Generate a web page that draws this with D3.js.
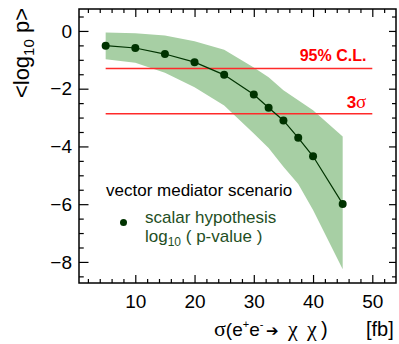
<!DOCTYPE html>
<html>
<head>
<meta charset="utf-8">
<script src="https://cdn.jsdelivr.net/npm/d3@7"></script>
<style>
  body { margin: 0; background: #fff; }
  svg { display: block; font-family: "Liberation Sans", Arial, sans-serif; }
</style>
</head>
<body>
<div id="chart"></div>
<script>
"use strict";

// cross section points [fb]
const sigmaValues = [5, 10, 15, 20, 25, 30, 32.5, 35, 37.5, 40, 45];
// mean log10 p for the scalar hypothesis
const meanLogP = [-0.51, -0.59, -0.80, -1.08, -1.52, -2.20, -2.66, -3.10, -3.70, -4.34, -5.99];
// spread band
const bandHigh = [-0.05, -0.08, -0.16, -0.36, -0.65, -1.27, -1.60, -2.05, -2.40, -2.75, -3.66];
const bandLow = [-0.98, -1.10, -1.45, -1.95, -2.58, -3.55, -4.05, -4.70, -5.30, -6.20, -8.25];

// reference levels
const levelNames = ["95% C.L.", "3σ"];
const levelValues = [-1.30, -2.87];
const levelRange = [5, 50];

const xMajorTicks = [10, 20, 30, 40, 50];
const yMajorTicks = [0, -2, -4, -6, -8];

const W = 399, H = 344;
const margin = { top: 9, right: 3, bottom: 61, left: 79 },
    width = W - margin.left - margin.right,
    height = H - margin.top - margin.bottom;

const svg = d3.select("#chart").append("svg")
    .attr("width", W)
    .attr("height", H);

const g = svg.append("g")
    .attr("transform", "translate(" + margin.left + "," + margin.top + ")");

const x = d3.scaleLinear().domain([0.5, 54]).range([0, width]);
const y = d3.scaleLinear().domain([-8.73, 0.76]).range([height, 0]);

const xMinor = d3.range(2, 54, 2).filter(v => v % 10 != 0);
const yMinor = d3.range(-8.5, 0.76, 0.5).filter(v => v % 2 != 0);

// band
const pts = sigmaValues.map((s, i) => ({ s: s, m: meanLogP[i], hi: bandHigh[i], lo: bandLow[i] }));
g.append("path")
    .datum(pts)
    .attr("fill", "#a7cfa4")
    .attr("stroke", "none")
    .attr("d", d3.area()
        .x(d => x(d.s))
        .y0(d => y(d.lo))
        .y1(d => y(d.hi)));

// reference lines
levelValues.forEach((v, i) => {
    g.append("line")
        .attr("x1", x(levelRange[0])).attr("x2", x(levelRange[1]))
        .attr("y1", y(v)).attr("y2", y(v))
        .attr("stroke", "#ff2a2a")
        .attr("stroke-width", 1.5);
});

g.append("text")
    .attr("x", x(49)).attr("y", y(levelValues[0]) - 7)
    .attr("text-anchor", "end")
    .attr("fill", "#ff0000")
    .style("font-size", "16px")
    .style("font-weight", "bold")
    .text(levelNames[0]);

g.append("text")
    .attr("x", x(49)).attr("y", y(levelValues[1]) - 6)
    .attr("text-anchor", "end")
    .attr("fill", "#ff0000")
    .style("font-size", "17px")
    .style("font-weight", "bold")
    .call(t => {
        t.append("tspan").text("3");
        t.append("tspan").style("font-family", "'Liberation Serif', serif").style("font-weight", "normal").style("font-size", "19px").text("σ");
    });

// mean curve
g.append("path")
    .datum(pts)
    .attr("fill", "none")
    .attr("stroke", "#003300")
    .attr("stroke-width", 1.2)
    .attr("d", d3.line().x(d => x(d.s)).y(d => y(d.m)));

g.selectAll("circle.pt")
    .data(pts)
    .enter().append("circle")
    .attr("class", "pt")
    .attr("cx", d => x(d.s))
    .attr("cy", d => y(d.m))
    .attr("r", 4)
    .attr("fill", "#003300");

// axes (ticks inside, ROOT style)
const styleAxis = (sel) => {
    sel.select(".domain").remove();
    sel.selectAll("line").attr("stroke", "#000").attr("stroke-width", 1.2);
};

g.append("g")
    .attr("transform", "translate(0," + height + ")")
    .call(d3.axisBottom(x).tickValues(xMajorTicks).tickSizeInner(-8).tickSizeOuter(0).tickPadding(12))
    .call(styleAxis)
    .selectAll("text").style("font-size", "19px").attr("fill", "#000");
g.append("g")
    .attr("transform", "translate(0," + height + ")")
    .call(d3.axisBottom(x).tickValues(xMinor).tickSizeInner(-4).tickSizeOuter(0).tickFormat(""))
    .call(styleAxis);
g.append("g")
    .call(d3.axisTop(x).tickValues(xMajorTicks).tickSizeInner(-8).tickSizeOuter(0).tickFormat(""))
    .call(styleAxis);
g.append("g")
    .call(d3.axisTop(x).tickValues(xMinor).tickSizeInner(-4).tickSizeOuter(0).tickFormat(""))
    .call(styleAxis);

g.append("g")
    .call(d3.axisLeft(y).tickValues(yMajorTicks).tickSizeInner(-9.5).tickSizeOuter(0).tickPadding(7))
    .call(styleAxis)
    .selectAll("text").style("font-size", "19px").attr("fill", "#000");
g.append("g")
    .call(d3.axisLeft(y).tickValues(yMinor).tickSizeInner(-4.75).tickSizeOuter(0).tickFormat(""))
    .call(styleAxis);
g.append("g")
    .attr("transform", "translate(" + width + ",0)")
    .call(d3.axisRight(y).tickValues(yMajorTicks).tickSizeInner(-7).tickSizeOuter(0).tickFormat(""))
    .call(styleAxis);
g.append("g")
    .attr("transform", "translate(" + width + ",0)")
    .call(d3.axisRight(y).tickValues(yMinor).tickSizeInner(-4).tickSizeOuter(0).tickFormat(""))
    .call(styleAxis);

// frame
g.append("rect")
    .attr("width", width).attr("height", height)
    .attr("fill", "none")
    .attr("stroke", "#000")
    .attr("stroke-width", 1.5);

// legend
g.append("text")
    .attr("x", 106 - margin.left).attr("y", 196 - margin.top)
    .style("font-size", "17px")
    .attr("fill", "#000")
    .text("vector mediator scenario");

g.append("circle")
    .attr("cx", 123.5 - margin.left).attr("cy", 222.5 - margin.top)
    .attr("r", 3.5)
    .attr("fill", "#003300");

const leg = g.append("text")
    .attr("x", 145 - margin.left).attr("y", 223 - margin.top)
    .style("font-size", "17px")
    .attr("fill", "#1f4f1f");
leg.append("tspan").text("scalar hypothesis");
leg.append("tspan").attr("x", 145 - margin.left).attr("dy", 19).text("log");
leg.append("tspan").attr("dy", 4).style("font-size", "12px").text("10");
leg.append("tspan").attr("dy", -4).text(" ( p-value  )");

// y title
const yt = svg.append("text")
    .attr("transform", "translate(29,8) rotate(-90)")
    .attr("text-anchor", "end")
    .style("font-size", "22px")
    .attr("fill", "#000");
yt.append("tspan").text("<log");
yt.append("tspan").attr("dy", 5).style("font-size", "15px").text("10");
yt.append("tspan").attr("dy", -5).text(" p>");

// x title, pieces placed like the ROOT latex layout
const xt = svg.append("text")
    .attr("y", 336)
    .style("font-size", "19px")
    .attr("fill", "#000");
const serif = "'Liberation Serif', serif";
xt.append("tspan").attr("x", 214).style("font-family", serif).style("font-size", "22px").text("σ");
xt.append("tspan").text("(e");
xt.append("tspan").attr("dy", -8).style("font-size", "11px").text("+");
xt.append("tspan").attr("dy", 8).text("e");
xt.append("tspan").attr("dy", -8).style("font-size", "11px").text("-");
xt.append("tspan").attr("x", 266).attr("dy", 8).style("font-family", "'DejaVu Sans', sans-serif").style("font-size", "15px").text("➔");
xt.append("tspan").attr("x", 288).style("font-family", serif).style("font-size", "22px").text("χ");
xt.append("tspan").attr("x", 307).style("font-family", serif).style("font-size", "22px").text("χ");
xt.append("tspan").attr("x", 321).style("font-size", "20px").text(")");
xt.append("tspan").attr("x", 366).style("font-size", "20px").text("[fb]");
</script>
</body>
</html>
